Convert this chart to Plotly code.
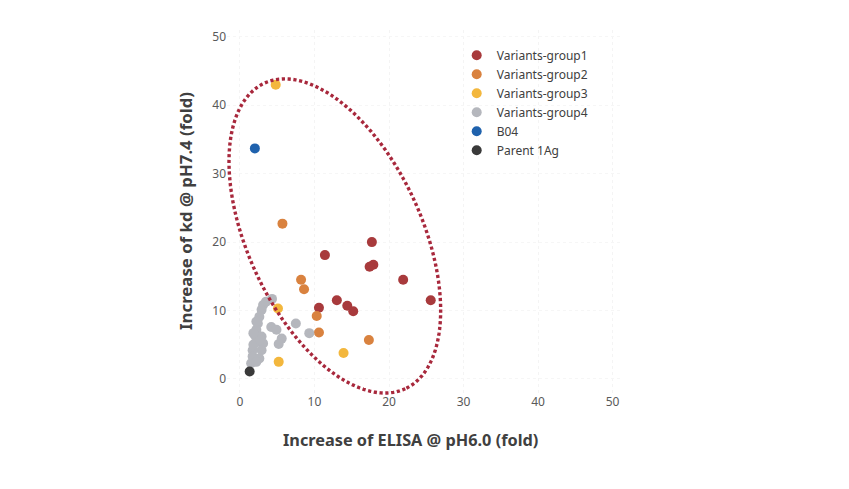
import numpy as np
import plotly.graph_objects as go

# ---- data ----
g1_x = [11.4, 17.7, 17.9, 17.4, 21.9, 25.6, 13.0, 14.4, 15.2, 10.6]
g1_y = [18.1, 20.0, 16.7, 16.4, 14.5, 11.5, 11.5, 10.7, 9.9, 10.4]

g2_x = [5.7, 8.2, 8.6, 10.3, 10.6, 17.3]
g2_y = [22.7, 14.5, 13.1, 9.2, 6.8, 5.7]

g3_x = [4.8, 5.1, 5.2, 13.9]
g3_y = [43.0, 10.3, 2.5, 3.8]

g4_x = [4.3, 3.5, 3.1, 2.9, 2.6, 2.4, 2.2, 2.0, 2.9, 3.1, 2.0, 2.9, 1.7, 1.7, 2.6, 1.5,
        4.2, 4.9, 5.6, 5.2, 7.5, 9.3, 2.2, 1.8, 1.8, 2.7, 2.2]
g4_y = [11.7, 11.3, 10.8, 10.1, 9.1, 8.1, 7.2, 6.4, 6.2, 5.2, 5.2, 4.2, 4.2, 3.3, 3.0, 2.3,
        7.6, 7.2, 5.9, 5.1, 8.1, 6.7, 8.4, 6.7, 5.0, 5.7, 2.5]

b04_x = [2.0]
b04_y = [33.7]

parent_x = [1.3]
parent_y = [1.1]

x_ticks = [0, 10, 20, 30, 40, 50]
y_ticks = [0, 10, 20, 30, 40, 50]

# ---- layout geometry ----
W, H = 849, 489
OFF = 8  # page body margin
x_range = [-1.74, 51]
y_range = [-2.05, 51]
m_l, m_r, m_t, m_b = 219, 236.5, 22.2, 104
plot_w = W - m_l - m_r
plot_h = H - m_t - m_b
px_per_x = plot_w / (x_range[1] - x_range[0])
px_per_y = plot_h / (y_range[1] - y_range[0])

def sx(px):  # screen px -> paper x
    return (px - OFF - m_l) / plot_w

def sy(py):  # screen px -> paper y
    return 1 - (py - OFF - m_t) / plot_h

# ---- dotted ellipse annotation (from centre / semi-axes / angle) ----
ell_cx, ell_cy = 12.73, 20.9
ell_a, ell_b, ell_ang = 168.2, 87.1, np.deg2rad(65.2)
t = np.linspace(0, 2 * np.pi, 181)
dx = ell_a * np.cos(t) * np.cos(ell_ang) - ell_b * np.sin(t) * np.sin(ell_ang)
dy = ell_a * np.cos(t) * np.sin(ell_ang) + ell_b * np.sin(t) * np.cos(ell_ang)
ex = ell_cx + dx / px_per_x
ey = ell_cy - dy / px_per_y
pxs = (ex - x_range[0]) / (x_range[1] - x_range[0])
pys = (ey - y_range[0]) / (y_range[1] - y_range[0])
path = "M " + " L ".join(f"{a:.5f},{b:.5f}" for a, b in zip(pxs, pys)) + " Z"

fig = go.Figure()

def add(name, xs, ys, color):
    fig.add_trace(go.Scatter(x=xs, y=ys, mode="markers", name=name,
                             marker=dict(color=color, size=10, line=dict(width=0))))

add("Variants-group1", g1_x, g1_y, "#A83A3C")
add("Variants-group2", g2_x, g2_y, "#D9823F")
add("Variants-group3", g3_x, g3_y, "#F3B73D")
add("Variants-group4", g4_x, g4_y, "#B5B7BD")
add("B04", b04_x, b04_y, "#1F62AD")
add("Parent 1Ag", parent_x, parent_y, "#3A3A3A")

fig.update_layout(
    width=W, height=H,
    margin=dict(l=m_l, r=m_r, t=m_t, b=m_b, pad=0),
    paper_bgcolor="white", plot_bgcolor="white",
    font=dict(family="Noto Sans", size=12, color="#595959"),
    showlegend=True,
    legend=dict(x=sx(457), y=sy(41), xref="paper", yref="paper",
                xanchor="left", yanchor="top",
                font=dict(family="Noto Sans", size=12, color="#404040"),
                bgcolor="rgba(0,0,0,0)", itemwidth=30, tracegroupgap=0),
    xaxis=dict(range=x_range, tickvals=x_ticks, showline=False, zeroline=False,
               showgrid=True, gridcolor="#F4F4F4", griddash="dot", ticks=""),
    yaxis=dict(range=y_range, tickvals=y_ticks, showline=False, zeroline=False,
               showgrid=True, gridcolor="#F6F6F6", griddash="dot", ticks=""),
    shapes=[dict(type="path", path=path, xref="paper", yref="paper", layer="above",
                 line=dict(color="#A8283C", width=3.4, dash="3.2px,2.6px"))],
    annotations=[
        dict(text="<b>Increase of ELISA @ pH6.0 (fold)</b>", x=sx(411), y=sy(440),
             xref="paper", yref="paper", showarrow=False, xanchor="center", yanchor="middle",
             font=dict(family="Noto Sans", size=16.3, color="#404040")),
        dict(text="<b>Increase of kd @ pH7.4 (fold)</b>", x=sx(186), y=sy(211),
             xref="paper", yref="paper", showarrow=False, xanchor="center", yanchor="middle",
             textangle=-90,
             font=dict(family="Noto Sans", size=16.8, color="#404040")),
    ],
)

fig.write_html("out.html")
